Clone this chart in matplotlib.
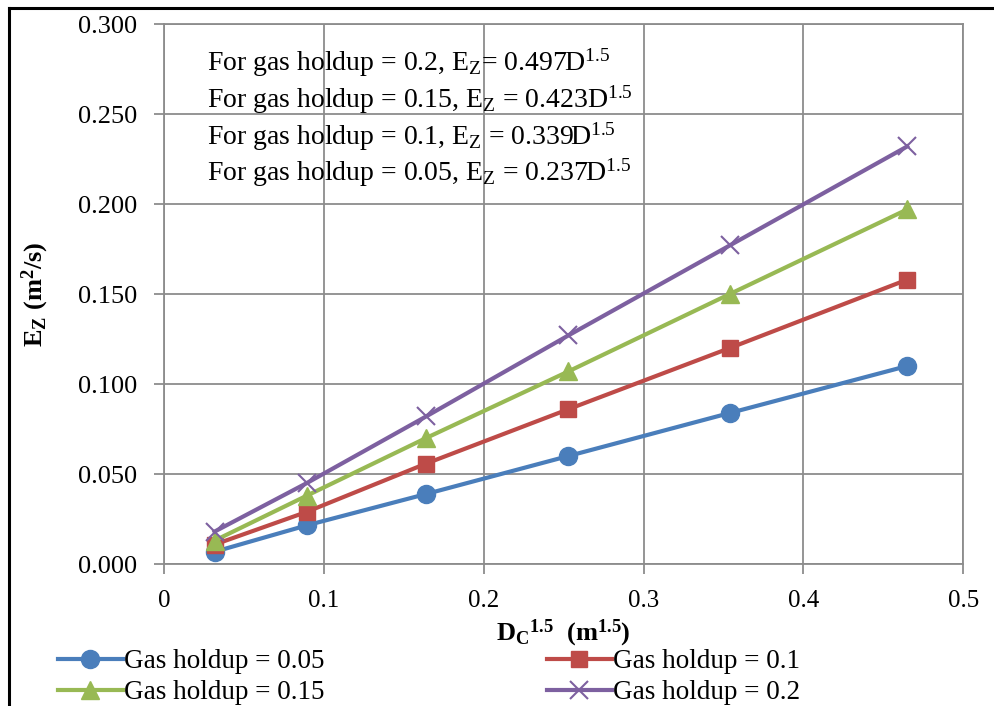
import matplotlib.pyplot as plt
from matplotlib.lines import Line2D

plt.rcParams['font.family'] = ['Liberation Serif', 'DejaVu Serif']
plt.rcParams['mathtext.fontset'] = 'custom'
plt.rcParams['mathtext.rm'] = 'Liberation Serif'
plt.rcParams['mathtext.it'] = 'Liberation Serif'
plt.rcParams['mathtext.bf'] = 'Liberation Serif:bold'

# D_C^1.5 for column diameters 0.1 .. 0.6 m
x_vals = [0.0316, 0.0894, 0.164, 0.253, 0.354, 0.465]
ez_005 = [0.0068, 0.0215, 0.0389, 0.0600, 0.0839, 0.1100]
ez_010 = [0.0108, 0.0290, 0.0558, 0.0860, 0.1200, 0.1580]
ez_015 = [0.0130, 0.0380, 0.0700, 0.1070, 0.1500, 0.1970]
ez_020 = [0.0180, 0.0450, 0.0820, 0.1270, 0.1770, 0.2320]
labels = ['Gas holdup = 0.05', 'Gas holdup = 0.1', 'Gas holdup = 0.15', 'Gas holdup = 0.2']
fit_lines = [
    'For gas holdup = 0.2, E$_{\\mathrm{Z}}$= 0.497D$^{1.5}$',
    'For gas holdup = 0.15, E$_{\\mathrm{Z}}$ = 0.423D$^{1.5}$',
    'For gas holdup = 0.1, E$_{\\mathrm{Z}}$ = 0.339D$^{1.5}$',
    'For gas holdup = 0.05, E$_{\\mathrm{Z}}$ = 0.237D$^{1.5}$',
]
x_ticks = [0, 0.1, 0.2, 0.3, 0.4, 0.5]
x_ticklabels = ['0', '0.1', '0.2', '0.3', '0.4', '0.5']
y_ticks = [0, 0.05, 0.1, 0.15, 0.2, 0.25, 0.3]

colors = ['#4A7EBB', '#BE4B48', '#98B954', '#7D60A0']

fig = plt.figure(figsize=(9.94, 7.06), dpi=100)
ax = fig.add_axes([0.165, 0.2011, 0.804, 0.7649])

h1, = ax.plot(x_vals, ez_005, color=colors[0], lw=3, marker='o', ms=13, label=labels[0])
h2, = ax.plot(x_vals, ez_010, color=colors[1], lw=3, marker='s', ms=12, label=labels[1])
h3, = ax.plot(x_vals, ez_015, color=colors[2], lw=3, marker='^', ms=13, label=labels[2])
h4, = ax.plot(x_vals, ez_020, color=colors[3], lw=3, marker='x', ms=13, mew=1.5, label=labels[3])

ax.set_xlim(0, 0.5)
ax.set_ylim(0, 0.3)
ax.set_xticks(x_ticks)
ax.set_xticklabels(x_ticklabels)
ax.set_yticks(y_ticks)
ax.set_yticklabels(['%.3f' % v for v in y_ticks])
ax.grid(True, color='#8c8c8c', lw=1.3)
ax.set_axisbelow(True)
for s in ax.spines.values():
    s.set_color('#8c8c8c')
    s.set_linewidth(1.3)
ax.tick_params(axis='both', colors='#8c8c8c', labelcolor='black',
               length=7, width=1.3, direction='out')
ax.tick_params(axis='x', pad=12, labelsize=18)
ax.tick_params(axis='y', pad=12, labelsize=19)

ax.set_ylabel('E$_{\\mathbf{Z}}$ (m$^{\\mathbf{2}}$/s)', fontsize=19, fontweight='bold', labelpad=20)
ax.set_xlabel('D$_{\\mathbf{C}}$$^{\\mathbf{1.5}}$  (m$^{\\mathbf{1.5}}$)', fontsize=19,
              fontweight='bold', labelpad=4)

for i, t in enumerate(fit_lines):
    ax.text(0.027, 0.2783 - i * 0.0204, t, fontsize=20, va='center', ha='left')

fig.legend([h1, h3, h2, h4], [labels[0], labels[2], labels[1], labels[3]],
           ncol=2, loc='upper left', bbox_to_anchor=(0.058, 0.0807), frameon=False,
           fontsize=19.5, handlelength=2.4, handletextpad=0.05, columnspacing=8.2,
           labelspacing=0.22, borderpad=0, borderaxespad=0)

fig.add_artist(Line2D([0.009, 0.009], [0, 0.989], color='black', lw=2.2, transform=fig.transFigure))
fig.add_artist(Line2D([0.009, 1.0], [0.989, 0.989], color='black', lw=2.2, transform=fig.transFigure))

fig.savefig('out.png', dpi=100)
